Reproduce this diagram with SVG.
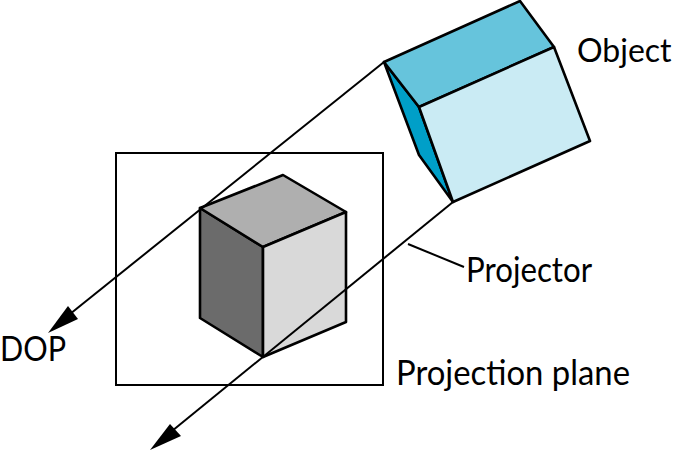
<svg xmlns="http://www.w3.org/2000/svg" width="674" height="450" viewBox="0 0 674 450">
<style>
.e{stroke:#000;stroke-width:2.6;stroke-linejoin:round;stroke-linecap:round}
.l{fill:none;stroke:#000;stroke-width:2}
text{font-family:"Lato","Liberation Sans",sans-serif;font-size:34px;font-weight:400;fill:#000}
</style>
<rect width="674" height="450" fill="#fff"/>
<g id="plane"><rect class="l" x="116" y="153" width="267" height="232"/></g>
<g id="image-cube">
<polygon class="e" fill="#6b6b6b" points="200,208 263,247 263,357 200,318"/>
<polygon class="e" fill="#afafaf" points="200,208 283,175 346,212 263,247"/>
<polygon class="e" fill="#d9d9d9" points="263,247 346,212 346,322 263,357"/>
</g>
<g id="object">
<polygon class="e" fill="#009fc8" points="384,62 419,107 453,202 419,155"/>
<polygon class="e" fill="#66c4dc" points="384,62 520,1 554,47 419,107"/>
<polygon class="e" fill="#caebf4" points="419,107 554,47 590,141 453,202"/>
</g>
<g id="connectors">
<line class="l" x1="384" y1="62" x2="70" y2="314"/>
<polygon points="48,333 68,306 78,319"/>
<line class="l" x1="453" y1="202" x2="172" y2="431"/>
<polygon points="150,450 170,424 181,436"/>
<line class="l" x1="408" y1="244" x2="464" y2="267"/>
</g>
<g id="labels">
<text x="577" y="62" style="font-size:32px">Object</text>
<text x="466" y="282" textLength="126" lengthAdjust="spacingAndGlyphs">Projector</text>
<text x="396" y="385" textLength="234" lengthAdjust="spacingAndGlyphs">Projection plane</text>
<text x="0" y="361" textLength="66" lengthAdjust="spacingAndGlyphs">DOP</text>
</g>
</svg>
